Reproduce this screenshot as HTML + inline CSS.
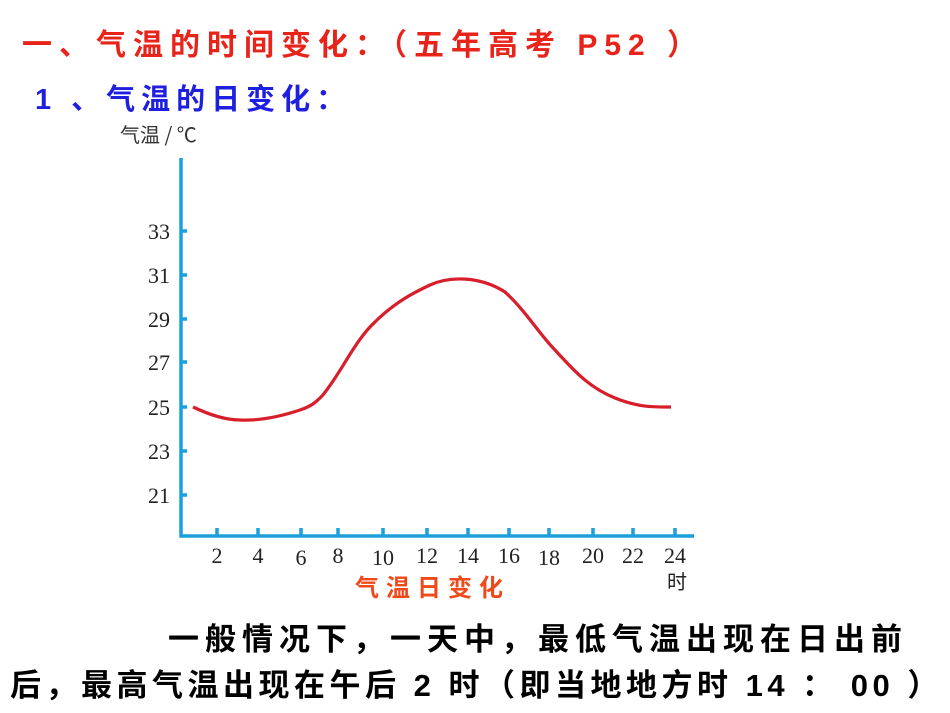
<!DOCTYPE html>
<html><head><meta charset="utf-8"><style>
html,body{margin:0;padding:0;background:#fff;width:950px;height:713px;overflow:hidden;position:relative;font-family:"Liberation Sans","Noto Sans CJK SC",sans-serif}
.t{position:absolute;white-space:nowrap}
</style></head><body>
<div class="t" style="left:22px;top:20px;font-size:30px;font-weight:bold;color:#e8231a;letter-spacing:7px">一、气温的时间变化：（五年高考 P52 ）</div>
<div class="t" style="left:35px;top:76px;font-size:29px;font-weight:bold;color:#1f1fe0;letter-spacing:6px">1 、气温的日变化：</div>
<svg style="position:absolute;left:0;top:0" width="950" height="713">
<g font-family="Liberation Serif, Noto Serif CJK SC, serif" fill="#222" font-size="22">
<text x="120" y="142" font-family="Noto Sans CJK SC, sans-serif" font-size="20" fill="#333">气温 / ℃</text>
<g text-anchor="end">
<text x="170" y="239">33</text><text x="170" y="283">31</text><text x="170" y="327">29</text>
<text x="170" y="370">27</text><text x="170" y="415">25</text><text x="170" y="459">23</text><text x="170" y="503">21</text>
</g>
<g text-anchor="middle">
<text x="217" y="563">2</text><text x="258" y="563">4</text><text x="301" y="565">6</text><text x="338" y="563">8</text>
<text x="383" y="565">10</text><text x="427" y="563">12</text><text x="468" y="563">14</text><text x="509" y="563">16</text>
<text x="549" y="565">18</text><text x="593" y="563">20</text><text x="633" y="563">22</text><text x="675" y="563">24</text>
<text x="677" y="589" font-family="Noto Sans CJK SC, sans-serif" font-size="20">时</text>
</g>
</g>
<g stroke="#1aa0dc" stroke-width="3.5" fill="none">
<path d="M181 158 V536 H694"/>
<path d="M181 231h6M181 275h6M181 319h6M181 362h6M181 407h6M181 451h6M181 495h6"/>
<path d="M217 536v-8M258 536v-8M301 536v-8M338 536v-8M383 536v-8M427 536v-8M468 536v-8M509 536v-8M549 536v-8M593 536v-8M633 536v-8M675 536v-8"/>
</g>
<path d="M193 407 C210 415,225 420,240 420 C262 421,285 415,300 410 C312 406,316 402,322 396 C340 375,355 340,375 322 C395 302,415 292,430 285 C450 276,480 276,505 292 C525 310,540 335,555 350 C575 372,590 388,615 398 C640 408,655 407,671 407" stroke="#d81e2a" stroke-width="3.2" fill="none"/>
<text x="355" y="596" font-family="Noto Sans CJK SC, sans-serif" font-size="24" font-weight="bold" fill="#f04a1a" letter-spacing="7">气温日变化</text>
</svg>
<div class="t" style="left:168px;top:614px;font-size:31px;font-weight:bold;color:#000;letter-spacing:6px">一般情况下，一天中，最低气温出现在日出前</div>
<div class="t" style="left:10px;top:660px;font-size:31px;font-weight:bold;color:#000;letter-spacing:4.5px">后，最高气温出现在午后 2 时（即当地地方时 14 ： 00 ）</div>
<div style="position:absolute;left:0;top:704px;width:950px;height:9px;overflow:hidden"><div class="t" style="left:10px;top:0;font-size:31px;font-weight:bold;color:#000;letter-spacing:6px">左右。</div></div>
</body></html>
